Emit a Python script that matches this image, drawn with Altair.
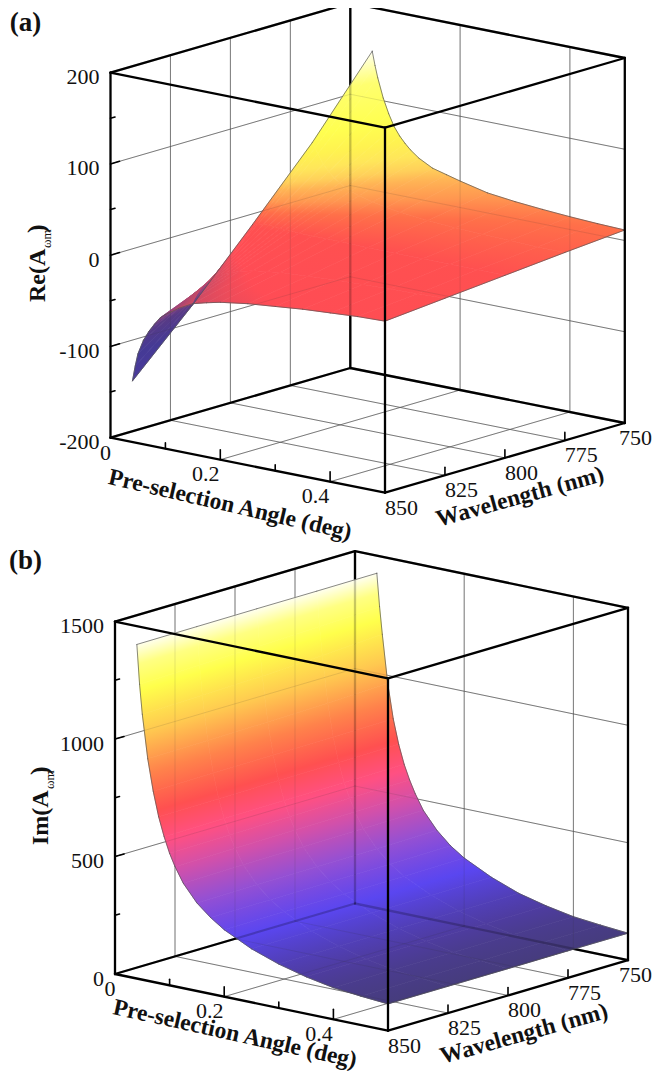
import altair as alt
import numpy as np
import pandas as pd

# ---------- values ----------
angles = [0.04, 0.045, 0.05, 0.06, 0.07, 0.08, 0.09, 0.10, 0.11, 0.125, 0.15, 0.175, 0.20, 0.25, 0.30, 0.35, 0.40, 0.45, 0.50]
wavelengths = [850, 825, 800, 775, 750]

re_850 = [-133, -116, -102, -86, -75, -66, -58, -53, -49, -43, -35, -31, -27.5, -23, -20, -17, -15, -13, -12]
re_825 = [-69, -62, -56, -46, -39, -34, -30, -27, -25, -22, -18, -16, -14, -12, -10, -9, -8, -7, -6]
re_800 = [0, 1, 2, 3, 3, 3, 2, 2, 2, 1, 1, 1, 1, 0, 0, 0, 0, 0, 0]
re_775 = [71, 66, 60, 50, 43, 37, 33, 29, 26, 23, 19, 16, 14, 11, 9, 8, 7, 6, 6]
re_750 = [152, 137, 124, 103, 87, 74, 65, 58, 52, 45, 37, 33, 29, 22, 18.5, 16, 14, 12.5, 11.5]

im_850 = [1422, 1255, 1130, 945, 812, 708, 628, 562, 510, 447, 375, 325, 285, 228, 187, 157, 135, 123, 114]
im_825 = [1423, 1262, 1136, 948, 814, 710, 630, 565, 513, 450, 377, 326, 286, 229, 188, 158, 136, 124, 114]
im_800 = [1424, 1268, 1142, 952, 816, 712, 632, 568, 516, 452, 379, 327, 287, 230, 188, 158, 136, 124, 114]
im_775 = [1424, 1276, 1155, 956, 818, 714, 634, 571, 519, 455, 381, 328, 288, 231, 188, 158, 136, 124, 115]
im_750 = [1425, 1285, 1170, 965, 820, 716, 636, 574, 522, 457, 384, 330, 290, 232, 188, 159, 137, 125, 115]

angle_major = [0.2, 0.4]
angle_minor = [0.1, 0.3]
wl_major = [825, 800, 775]
re_major = [-100, 0, 100]
re_minor = [-150, -50, 50, 150]
im_major = [500, 1000]
im_minor = [250, 750, 1250]

# colour ramps: (surface value, colour)
re_ramp = [(-133, "#4a3a9c"), (-100, "#453a95"), (-70, "#583a85"), (-55, "#8a4080"), (-40, "#c04a68"), (-20, "#ff4c55"),
           (0, "#ff5050"), (12, "#ff7049"), (20, "#ff9650"), (30, "#ffb455"), (37, "#ffd05a"), (47, "#ffe65a"),
           (60, "#fff250"), (80, "#ffff50"), (120, "#ffff70"), (135, "#ffffaa"), (152, "#fffff5")]
im_ramp = [(114, "#463c7d"), (159, "#4e3ca0"), (260, "#5a46f0"), (384, "#9650d2"), (500, "#d250aa"),
           (614, "#ff5082"), (735, "#ff5050"), (887, "#ff824b"), (1055, "#ffc850"), (1231, "#ffff4b"),
           (1340, "#ffff82"), (1425, "#fffff0")]

W, H = 645, 1065
FONT = "Liberation Serif"


class Box:
    def __init__(self, left_bottom, front_bottom, back_bottom, height, zmin, zmax):
        self.lb = np.array(left_bottom, float)
        self.fb = np.array(front_bottom, float)
        self.bb = np.array(back_bottom, float)
        self.h = height
        self.zmin, self.zmax = zmin, zmax

    def p(self, a, wl, z):
        q = (self.lb + (self.fb - self.lb) * a / 0.5 + (self.bb - self.lb) * (850 - wl) / 100.0
             - np.array([0, self.h * (z - self.zmin) / (self.zmax - self.zmin)]))
        return q[0] - 8, q[1] - 8


box_a = Box((110.5, 437.7), (385, 492.7), (350.3, 368), 365, -200, 200)
box_b = Box((115, 974), (388, 1030.7), (355, 903.5), 352.4, 0, 1500)


def rules(segs, color, width, opacity=1.0):
    df = pd.DataFrame([dict(x=a[0], y=a[1], x2=b[0], y2=b[1]) for a, b in segs])
    return alt.Chart(df).mark_rule(color=color, strokeWidth=width, opacity=opacity, strokeCap="round").encode(
        x=alt.X("x:Q", scale=alt.Scale(domain=[0, W], range=[0, W]), axis=None),
        y=alt.Y("y:Q", scale=alt.Scale(domain=[0, H], range=[0, H]), axis=None),
        x2="x2:Q", y2="y2:Q")


def texts(rows, size, bold=False, angle=0, align="center", baseline="middle"):
    df = pd.DataFrame(rows, columns=["t", "x", "y"])
    kw = dict(angle=angle) if angle else {}
    return alt.Chart(df).mark_text(font=FONT, fontSize=size, fontWeight="bold" if bold else "normal",
                                   color="#111", align=align, baseline=baseline, **kw).encode(
        x=alt.X("x:Q", scale=alt.Scale(domain=[0, W], range=[0, W]), axis=None),
        y=alt.Y("y:Q", scale=alt.Scale(domain=[0, H], range=[0, H]), axis=None),
        text="t:N")


def ramp_color(ramp, z):
    zs = [r[0] for r in ramp]
    rgb = np.array([[int(r[1][i:i + 2], 16) for i in (1, 3, 5)] for r in ramp], float)
    c = [np.interp(z, zs, rgb[:, k]) for k in range(3)]
    return "#%02x%02x%02x" % tuple(int(round(v)) for v in c)


def cell_feature(box, corners, ramp):
    pts = [box.p(*c) for c in corners]
    zs = np.array([c[2] for c in corners], float)
    xs = np.array([p[0] for p in pts])
    ys = np.array([p[1] for p in pts])
    u = (xs - xs.min()) / max(xs.max() - xs.min(), 1e-6)
    v = (ys - ys.min()) / max(ys.max() - ys.min(), 1e-6)
    A = np.c_[np.ones(4), u, v]
    c0, cu, cv = np.linalg.lstsq(A, zs, rcond=None)[0]
    g2 = cu * cu + cv * cv
    z0, z1 = zs.min(), zs.max()
    if g2 < 1e-9 or z1 - z0 < 1e-6:
        z1 = z0 + 1e-3
        p1, p2 = (0.5, 0.0), (0.5, 1.0)
    else:
        zc = c0 + 0.5 * cu + 0.5 * cv
        p1 = (0.5 + (z0 - zc) * cu / g2, 0.5 + (z0 - zc) * cv / g2)
        p2 = (0.5 + (z1 - zc) * cu / g2, 0.5 + (z1 - zc) * cv / g2)
    stops = [{"offset": 0, "color": ramp_color(ramp, z0)}]
    for rz, _ in ramp:
        if z0 < rz < z1:
            stops.append({"offset": float((rz - z0) / (z1 - z0)), "color": ramp_color(ramp, rz)})
    stops.append({"offset": 1, "color": ramp_color(ramp, z1)})
    grad = {"gradient": "linear", "x1": float(p1[0]), "y1": float(p1[1]), "x2": float(p2[0]), "y2": float(p2[1]),
            "stops": stops}
    ring = [[float(x), float(y)] for x, y in pts] + [[float(pts[0][0]), float(pts[0][1])]]
    return {"type": "Feature", "geometry": {"type": "Polygon", "coordinates": [ring]}, "properties": {"grad": grad}}


def surface(box, table, ramp):
    feats = []
    for j in range(len(wavelengths) - 1):
        for i in range(len(angles) - 1):
            cs = [(angles[i], wavelengths[j], table[j][i]), (angles[i + 1], wavelengths[j], table[j][i + 1]),
                  (angles[i + 1], wavelengths[j + 1], table[j + 1][i + 1]), (angles[i], wavelengths[j + 1], table[j + 1][i])]
            feats.append(cell_feature(box, cs, ramp))
    cells = alt.Chart(alt.InlineData(values=feats)).mark_geoshape(strokeWidth=0.7).encode(
        color=alt.Color("properties.grad:N", scale=None, legend=None),
        stroke=alt.Stroke("properties.grad:N", scale=None, legend=None),
    ).project(type="identity", scale=1, translate=[0, 0])
    edge = ([(a, wavelengths[0], table[0][i]) for i, a in enumerate(angles)]
            + [(angles[-1], wavelengths[j], table[j][-1]) for j in range(5)]
            + [(a, wavelengths[-1], table[-1][i]) for i, a in reversed(list(enumerate(angles)))]
            + [(angles[0], wavelengths[j], table[j][0]) for j in reversed(range(5))])
    segs = [(box.p(*edge[k]), box.p(*edge[k + 1])) for k in range(len(edge) - 1)]
    return cells, rules(segs, "#555555", 0.7)


def panel(box, table, ramp, z_major, z_minor, z_right, tag, tag_xy, ylab, ylab_xy, sub_y, paren_y,
          xt_xy, xt_angle, wt_xy, wt_angle):
    p = box.p
    zl, zh = box.zmin, box.zmax
    lay = []
    thin = []
    for z in z_major:
        thin += [(p(0, 850, z), p(0, 750, z)), (p(0, 750, z), p(0.5, 750, z))]
    for w in wl_major:
        thin += [(p(0, w, zl), p(0, w, zh)), (p(0, w, zl), p(0.5, w, zl))]
    for a in angle_major:
        thin += [(p(a, 750, zl), p(a, 750, zh)), (p(a, 850, zl), p(a, 750, zl))]
    back = [(p(0, 750, zl), p(0, 750, zh)), (p(0, 850, zl), p(0, 750, zl)), (p(0, 750, zl), p(0.5, 750, zl)),
            (p(0, 850, zh), p(0, 750, zh)), (p(0, 750, zh), p(0.5, 750, zh))]
    front = [(p(0, 850, zh), p(0.5, 850, zh)), (p(0.5, 850, zh), p(0.5, 750, zh)),
             (p(0.5, 850, zl), p(0.5, 850, zh)), (p(0, 850, zl), p(0, 850, zh)), (p(0.5, 750, zl), p(0.5, 750, zh)),
             (p(0, 850, zl), p(0.5, 850, zl)), (p(0.5, 850, zl), p(0.5, 750, zl))]
    ticks = []

    def off(q, dx, dy):
        return (q[0] + dx, q[1] + dy)

    for z in z_major:
        q = p(0, 850, z)
        ticks.append((q, off(q, 9, -2.6)))
    for z in z_minor:
        q = p(0, 850, z)
        ticks.append((q, off(q, 4.5, -1.3)))
    for a in angle_major:
        q = p(a, 850, zl)
        ticks.append((q, off(q, 0, -10)))
    for a in angle_minor:
        q = p(a, 850, zl)
        ticks.append((q, off(q, 0, -6)))
    for w in wl_major:
        q = p(0.5, w, zl)
        ticks.append((q, off(q, 0, -8)))

    lay.append(rules(thin, "#666666", 0.8))
    lay.append(rules(back, "#000000", 2.3))
    cells, edge = surface(box, table, ramp)
    lay.append(cells)
    lay.append(rules(thin, "#333333", 0.8, 0.16))
    lay.append(rules(back, "#000000", 2.3, 0.22))
    lay.append(edge)
    lay.append(rules(front, "#000000", 2.3))
    lay.append(rules(ticks, "#000000", 1.6))

    zlabs = []
    for z in [zl] + z_major + [zh]:
        q = p(0, 850, z)
        zlabs.append((str(z), q[0] - z_right, q[1] + 4.5))
    lay.append(texts(zlabs, 22, align="right"))
    xl = [("0", *off(p(0, 850, zl), -5, 15))] + [(f"{a:g}", *off(p(a, 850, zl), -14.5, 14.5)) for a in angle_major]
    wl = []
    for w in wavelengths:
        x, y = off(p(0.5, w, zl), 16.5, 15)
        wl.append((str(w), min(x, W - 17.5), y))   # keep the last label inside the page
    lay.append(texts(xl + wl, 22))
    lay.append(texts([(tag, tag_xy[0] - 8, tag_xy[1] - 8)], 27, bold=True))
    lay.append(texts([("Pre-selection Angle (deg)", xt_xy[0] - 8, xt_xy[1] - 8)], 23.5, bold=True, angle=xt_angle))
    lay.append(texts([("Wavelength (nm)", wt_xy[0] - 8, wt_xy[1] - 8)], 23.5, bold=True, angle=wt_angle))
    lay.append(texts([(ylab, ylab_xy[0] - 8, ylab_xy[1] - 8)], 24, bold=True, angle=270, align="left", baseline="alphabetic"))
    lay.append(texts([("\u03c9m", ylab_xy[0] - 8 + 6, sub_y - 8)], 13, angle=270, align="left", baseline="alphabetic"))
    lay.append(texts([(")", ylab_xy[0] - 8, paren_y - 8)], 26, bold=True, angle=270, align="left", baseline="alphabetic"))
    return lay


layers = []
layers += panel(box_a, [re_850, re_825, re_800, re_775, re_750], re_ramp, re_major, re_minor, 11,
                "(a)", (25.5, 23), "Re(A", (45, 302), 248, 233,
                (230, 505), 13, (520, 497), 344.5)
layers += panel(box_b, [im_850, im_825, im_800, im_775, im_750], im_ramp, im_major, im_minor, 11,
                "(b)", (25.5, 561), "Im(A", (48, 845), 789, 775,
                (235, 1034), 12.5, (524, 1034), 344.5)

chart = alt.layer(*layers).properties(width=W, height=H, padding=0,
                                      autosize=alt.AutoSizeParams(type="none")).configure_view(stroke=None)
chart.save("out.html", embed_options={"renderer": "svg", "actions": False})
